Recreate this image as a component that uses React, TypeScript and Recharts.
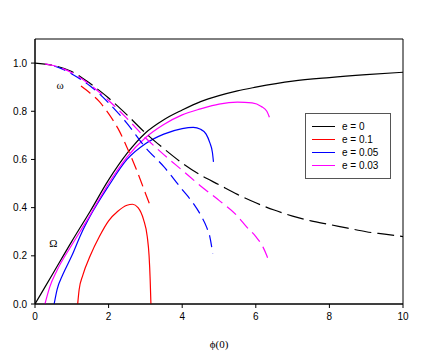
import React from "react";
import {
  LineChart,
  Line,
  XAxis,
  YAxis,
  Legend,
  ReferenceArea,
  ReferenceDot,
} from "recharts";

type Pt = [number, number];

const xTicks = [0, 2, 4, 6, 8, 10];
const yTicks = [0, 0.2, 0.4, 0.6, 0.8, 1.0];

// Ω branches (solid)
const bigOmegaE0: Pt[] = [
  [0, 0], [0.5, 0.13], [1, 0.26], [1.5, 0.385], [2, 0.515], [2.5, 0.625],
  [3, 0.71], [3.5, 0.765], [4, 0.805], [4.5, 0.84], [5, 0.865], [5.5, 0.885],
  [6, 0.9], [7, 0.925], [8, 0.94], [9, 0.952], [10, 0.962],
];
const bigOmegaE01: Pt[] = [
  [1.16, 0], [1.2, 0.06], [1.3, 0.12], [1.5, 0.2], [1.75, 0.28], [2, 0.345],
  [2.25, 0.385], [2.5, 0.41], [2.65, 0.414], [2.8, 0.4], [2.95, 0.35],
  [3.05, 0.28], [3.1, 0.2], [3.13, 0.1], [3.15, 0],
];
const bigOmegaE005: Pt[] = [
  [0.52, 0], [0.6, 0.06], [0.75, 0.12], [1, 0.2], [1.25, 0.29], [1.5, 0.365],
  [2, 0.49], [2.5, 0.6], [3, 0.665], [3.5, 0.705], [4, 0.728], [4.3, 0.733],
  [4.5, 0.725], [4.65, 0.705], [4.75, 0.67], [4.82, 0.63], [4.85, 0.59],
];
const bigOmegaE003: Pt[] = [
  [0.27, 0], [0.4, 0.07], [0.6, 0.14], [1, 0.245], [1.42, 0.349], [2, 0.5],
  [2.5, 0.61], [3, 0.69], [3.5, 0.745], [4, 0.785], [4.5, 0.81], [5, 0.83],
  [5.5, 0.838], [5.9, 0.835], [6.15, 0.82], [6.3, 0.8], [6.37, 0.775],
];

// ω branches (dashed)
const smallOmegaE0: Pt[] = [
  [0, 1], [0.5, 0.99], [1, 0.965], [1.5, 0.915], [2, 0.855], [2.5, 0.785],
  [3, 0.71], [3.5, 0.645], [4, 0.585], [4.5, 0.535], [5, 0.495], [5.5, 0.455],
  [6, 0.42], [6.5, 0.39], [7, 0.365], [7.5, 0.345], [8, 0.33], [8.5, 0.315],
  [9, 0.3], [9.5, 0.29], [10, 0.28],
];
const smallOmegaE01: Pt[] = [
  [1.25, 0.905], [1.5, 0.875], [1.75, 0.84], [2, 0.79], [2.25, 0.73],
  [2.5, 0.65], [2.75, 0.56], [3, 0.46], [3.15, 0.4],
];
const smallOmegaE005: Pt[] = [
  [0.52, 0.988], [0.75, 0.975], [1, 0.955], [1.5, 0.905], [2, 0.835],
  [2.5, 0.75], [3, 0.65], [3.5, 0.57], [4, 0.475], [4.3, 0.418], [4.5, 0.37],
  [4.66, 0.32], [4.75, 0.28], [4.83, 0.21],
];
const smallOmegaE003: Pt[] = [
  [0.27, 0.997], [0.5, 0.99], [1, 0.96], [1.5, 0.91], [2, 0.845], [2.5, 0.77],
  [3, 0.69], [3.5, 0.62], [4, 0.555], [4.5, 0.49], [5, 0.43], [5.5, 0.365],
  [5.75, 0.32], [6, 0.28], [6.2, 0.235], [6.3, 0.2], [6.37, 0.17],
];

const series = [
  { name: "e = 0", color: "#000000", solid: bigOmegaE0, dashed: smallOmegaE0, dash: "17 6" },
  { name: "e = 0.1", color: "#ff0000", solid: bigOmegaE01, dashed: smallOmegaE01, dash: "12 6" },
  { name: "e = 0.05", color: "#0000ff", solid: bigOmegaE005, dashed: smallOmegaE005, dash: "12 6" },
  { name: "e = 0.03", color: "#ff00ff", solid: bigOmegaE003, dashed: smallOmegaE003, dash: "12 6" },
];

// curve annotations
const curveLabels = [
  { text: "ω", x: 0.68, y: 0.91 },
  { text: "Ω", x: 0.5, y: 0.252 },
];

const toRows = (pts: Pt[]) => pts.map(([x, y]) => ({ x, y }));

const sans = "'Liberation Sans', Arial, sans-serif";
const serif = "'Liberation Serif', 'Times New Roman', serif";

function LegendBox() {
  return (
    <div
      style={{
        width: 84,
        height: 58,
        border: "1px solid #555",
        background: "#fff",
        paddingTop: 6,
        boxSizing: "content-box",
        fontFamily: sans,
        fontSize: 10,
        color: "#000",
      }}
    >
      {series.map((s) => (
        <div
          key={s.name}
          style={{ display: "flex", alignItems: "center", height: 13, paddingLeft: 6 }}
        >
          <div style={{ width: 23, height: 1, background: s.color }} />
          <span style={{ marginLeft: 7 }}>{s.name}</span>
        </div>
      ))}
    </div>
  );
}

export default function App() {
  return (
    <div style={{ position: "absolute", left: 0, top: 0 }}>
      <LineChart
        width={425}
        height={364}
        margin={{ top: 39, right: 22, left: 0, bottom: 16 }}
      >
        <XAxis
          dataKey="x"
          type="number"
          domain={[0, 10]}
          ticks={xTicks}
          allowDataOverflow
          height={44}
          tickSize={4}
          tickMargin={5}
          stroke="#000"
          tick={{ fill: "#000", fontSize: 10, fontFamily: sans }}
          label={{
            value: "ϕ(0)",
            position: "insideBottom",
            offset: 0,
            fill: "#000",
            fontSize: 11,
            fontFamily: serif,
          }}
        />
        <YAxis
          type="number"
          domain={[0, 1.1]}
          ticks={yTicks}
          allowDataOverflow
          width={35}
          tickSize={4}
          tickMargin={4}
          stroke="#000"
          tick={{ fill: "#000", fontSize: 10, fontFamily: sans }}
          tickFormatter={(v) => Number(v).toFixed(1)}
        />
        <ReferenceArea
          x1={0}
          x2={10}
          y1={0}
          y2={1.1}
          fill="none"
          stroke="#000"
          strokeWidth={1}
        />
        {series.map((s) => (
          <Line
            key={s.name + "-solid"}
            data={toRows(s.solid)}
            dataKey="y"
            type="monotone"
            stroke={s.color}
            strokeWidth={1.2}
            dot={false}
            legendType="none"
            isAnimationActive={false}
          />
        ))}
        {series.map((s) => (
          <Line
            key={s.name + "-dashed"}
            data={toRows(s.dashed)}
            dataKey="y"
            type="monotone"
            stroke={s.color}
            strokeWidth={1.2}
            strokeDasharray={s.dash}
            dot={false}
            legendType="none"
            isAnimationActive={false}
          />
        ))}
        {curveLabels.map((l) => (
          <ReferenceDot
            key={l.text}
            x={l.x}
            y={l.y}
            r={0}
            stroke="none"
            fill="none"
            label={{
              value: l.text,
              position: "center",
              fill: "#000",
              fontSize: 11,
              fontFamily: serif,
            }}
          />
        ))}
        <Legend
          layout="vertical"
          align="center"
          verticalAlign="middle"
          content={<LegendBox />}
          wrapperStyle={{ left: 305, top: 113, width: 86 }}
        />
      </LineChart>
    </div>
  );
}
